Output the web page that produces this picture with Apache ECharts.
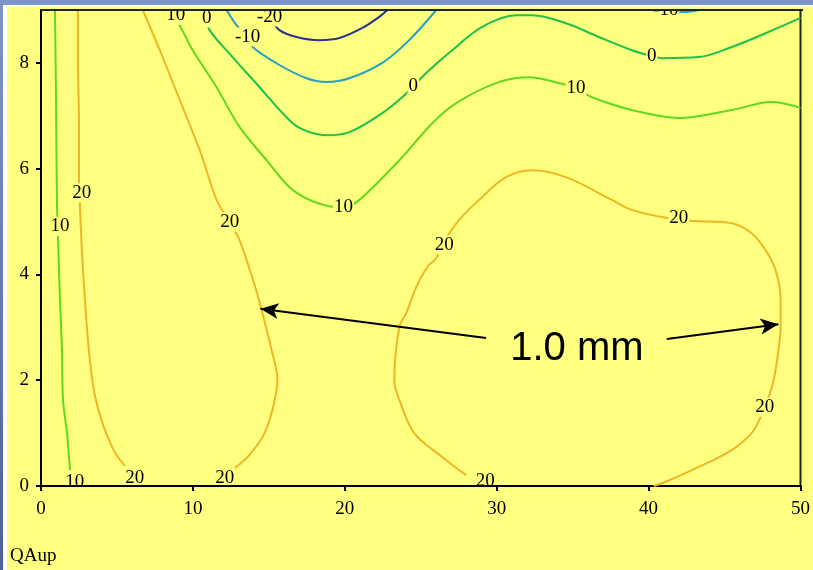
<!DOCTYPE html>
<html><head><meta charset="utf-8">
<script src="https://cdn.jsdelivr.net/npm/echarts@6/dist/echarts.min.js"></script>
<style>html,body{margin:0;padding:0;background:#ffff80}#c{width:813px;height:570px}</style>
</head><body><div id="c"></div>
<script>
// axis ticks
const xTicks = [0, 10, 20, 30, 40, 50];
const yTicks = [0, 2, 4, 6, 8];
const xAxisName = 'QAup';

// contour level 20 (three pieces)
const c20a = [[2.43,9.0],[2.43,8.05],[2.50,6.92],[2.50,5.78],[2.56,5.31],[2.69,4.46],[2.89,3.52],[3.15,2.57],[3.48,1.81],[3.88,1.34],[4.34,0.96],[4.86,0.64],[5.52,0.38]];
const c20b = [[6.70,9.0],[7.82,8.24],[9.13,7.30],[10.45,6.35],[11.56,5.41],[12.4,5.0],[13.07,4.65],[14.06,3.80],[14.52,3.33],[15.18,2.57],[15.57,2.00],[15.31,1.53],[14.72,1.00],[13.73,0.59],[12.75,0.34]];
const c20c = [[28.0,0.2],[26.41,0.55],[24.57,1.00],[23.59,1.63],[23.26,2.00],[23.59,3.01],[24.05,3.27],[24.70,3.76],[25.43,4.14],[26.02,4.31],[26.5,4.6],[27.53,5.03],[28.84,5.41],[30.62,5.84],[32.33,5.97],[34.56,5.84],[37.58,5.41],[38.90,5.22],[41.13,5.07],[43.10,5.01],[45.47,4.97],[46.78,4.78],[47.70,4.46],[48.36,4.08],[48.69,3.52],[48.69,3.01],[48.55,2.57],[48.23,2.00],[47.90,1.68],[47.37,1.30],[46.78,1.00],[45.47,0.68],[43.30,0.36],[41.13,0.08],[40.34,0]];
// contour level 10
const c10a = [[0.92,9.0],[0.99,7.30],[1.05,5.41],[1.12,4.71],[1.25,3.52],[1.38,2.57],[1.45,1.63],[1.71,1.00],[1.91,0.30]];
const c10b = [[8.7,8.92],[9.13,8.71],[9.99,8.24],[11.56,7.54],[13.07,6.79],[14.85,6.16],[16.36,5.65],[17.67,5.41],[18.99,5.29],[19.91,5.27],[20.96,5.41],[23.59,6.16],[25.76,6.86],[27.33,7.24],[30.16,7.64],[32.13,7.73],[34.10,7.62],[35.22,7.52],[36.27,7.35],[38.90,7.11],[41.98,6.96],[45.47,7.11],[48.09,7.26],[50.0,7.15]];
// contour level 0
const c0a = [[10.91,8.85],[11.10,8.62],[12.61,8.11],[14.39,7.54],[15.90,7.05],[17.02,6.77],[18.79,6.63],[20.30,6.69],[22.47,7.05],[23.78,7.35],[24.51,7.56],[25.36,7.81],[26.87,8.19],[29.04,8.68],[31.27,8.90],[32.33,8.90],[34.56,8.75],[36.73,8.49],[38.90,8.24],[40.21,8.13],[40.87,8.09],[43.30,8.11],[45.47,8.30],[47.70,8.56],[50.0,8.85]];
// contour level -10
const cm10a = [[12.22,9.0],[12.88,8.71],[13.60,8.49],[13.93,8.30],[15.70,7.96],[17.48,7.71],[18.79,7.64],[20.30,7.71],[22.47,8.00],[24.24,8.43],[26.02,9.0]];
const cm10b = [[41.13,8.99],[42.38,8.96],[43.30,9.0]];
// contour level -20
const cm20a = [[15.05,8.87],[15.70,8.62],[16.82,8.49],[18.33,8.43],[19.65,8.47],[21.16,8.66],[22.27,8.87],[22.80,9.0]];

// contour labels [x, y, text]
const contourLabels = [
  [2.69,5.54,'20'],[6.18,0.15,'20'],[12.42,4.99,'20'],[12.09,0.15,'20'],
  [26.54,4.56,'20'],[41.98,5.07,'20'],[47.64,1.49,'20'],[29.24,0.09,'20'],
  [1.25,4.91,'10'],[2.23,0.08,'10'],[8.87,8.90,'10'],[19.91,5.27,'10'],[35.22,7.52,'10'],
  [10.91,8.85,'0'],[24.51,7.56,'0'],[40.21,8.13,'0'],
  [13.60,8.49,'-10'],[41.13,9.0,'-10'],
  [15.05,8.87,'-20']
];

// annotation: arrows [from, to] and text
const arrows = [[[29.30,2.80],[14.45,3.35]],[[41.20,2.78],[48.55,3.06]]];
const annotText = '1.0 mm';
const annotPos = [35.28, 2.60];

const colors = {'20':'#f0b622','10':'#62d81e','0':'#1ec04e','-10':'#26a0c4','-20':'#283490'};
const serif = '"Liberation Serif", "DejaVu Serif", serif';

function line(data, lvl) {
  return {type:'line', data: data, symbol:'none', smooth:0.35, silent:true, z:2,
    lineStyle:{color:colors[lvl], width:2}, clip:true, animation:false};
}

// labels sitting on the x axis are drawn without a mask so the axis line stays visible
const labelItems = contourLabels.map(d => d[1] < 0.2
  ? {value:d, label:{backgroundColor:'transparent'}}
  : {value:d});

const chart = echarts.init(document.getElementById('c'));
chart.setOption({
  backgroundColor:'#ffff80',
  animation:false,
  grid:{left:41, right:11, top:10, bottom:84, show:true, borderColor:'#222', borderWidth:2, backgroundColor:'transparent'},
  xAxis:{type:'value', min:0, max:50, interval:10,
    axisLine:{lineStyle:{color:'#000', width:2}},
    axisTick:{length:5, lineStyle:{color:'#000', width:2}, customValues: xTicks},
    splitLine:{show:false},
    axisLabel:{color:'#000', fontSize:19, fontFamily:serif, margin:14, customValues: xTicks}},
  yAxis:{type:'value', min:0, max:9, interval:2,
    axisLine:{show:true, lineStyle:{color:'#000', width:2}},
    axisTick:{show:true, length:5, lineStyle:{color:'#000', width:2}, customValues: yTicks},
    splitLine:{show:false},
    axisLabel:{color:'#000', fontSize:19, fontFamily:serif, margin:12, customValues: yTicks}},
  series:[
    line(c20a,'20'), line(c20b,'20'), line(c20c,'20'),
    line(c10a,'10'), line(c10b,'10'),
    line(c0a,'0'),
    line(cm10a,'-10'), line(cm10b,'-10'),
    line(cm20a,'-20'),
    {type:'scatter', silent:true, z:5, symbolSize:0, itemStyle:{color:'#000', opacity:1},
      data: labelItems,
      label:{show:true, position:'inside', formatter:p=>p.value[2], color:'#000', opacity:1, fontSize:19, fontFamily:serif,
        textBorderWidth:0, backgroundColor:'#ffff80', padding:[0,1]},
      markLine:{silent:true, symbol:['none','arrow'], symbolSize:[12,18], animation:false,
        lineStyle:{color:'#000', width:2, type:'solid'}, label:{show:false},
        data: arrows.map(a=>[{coord:a[0]},{coord:a[1]}])}
    },
    {type:'scatter', silent:true, z:6, symbolSize:0, itemStyle:{color:'#000', opacity:1},
      data:[annotPos],
      label:{show:true, position:'inside', formatter:annotText, color:'#000', opacity:1, fontSize:40, textBorderWidth:0,
        fontFamily:'"Liberation Sans", Arial, sans-serif', backgroundColor:'#ffff80', padding:[0,8]}}
  ],
  graphic:[
    {type:'rect', z:100, shape:{x:0,y:0,width:813,height:9}, style:{fill:'#ffff80'}},
    {type:'line', z:101, shape:{x1:40,y1:10,x2:803,y2:10}, style:{stroke:'#222', lineWidth:2}},
    {type:'rect', z:102, shape:{x:0,y:0,width:813,height:5}, style:{fill:'#7d95c9'}},
    {type:'rect', z:102, shape:{x:0,y:5,width:813,height:1.5}, style:{fill:'#ffffff'}},
    {type:'rect', z:102, shape:{x:3,y:5,width:4,height:565}, style:{fill:'#ffffff'}},
    {type:'rect', z:103, shape:{x:0,y:0,width:3,height:570},
      style:{fill:new echarts.graphic.LinearGradient(0,0,0,1,[{offset:0,color:'#7d95c9'},{offset:1,color:'#4f5f99'}])}},
    {type:'text', z:102, left:10, top:547, style:{text:xAxisName, fontSize:19, fontFamily:serif, fill:'#000'}}
  ]
});
</script></body></html>
